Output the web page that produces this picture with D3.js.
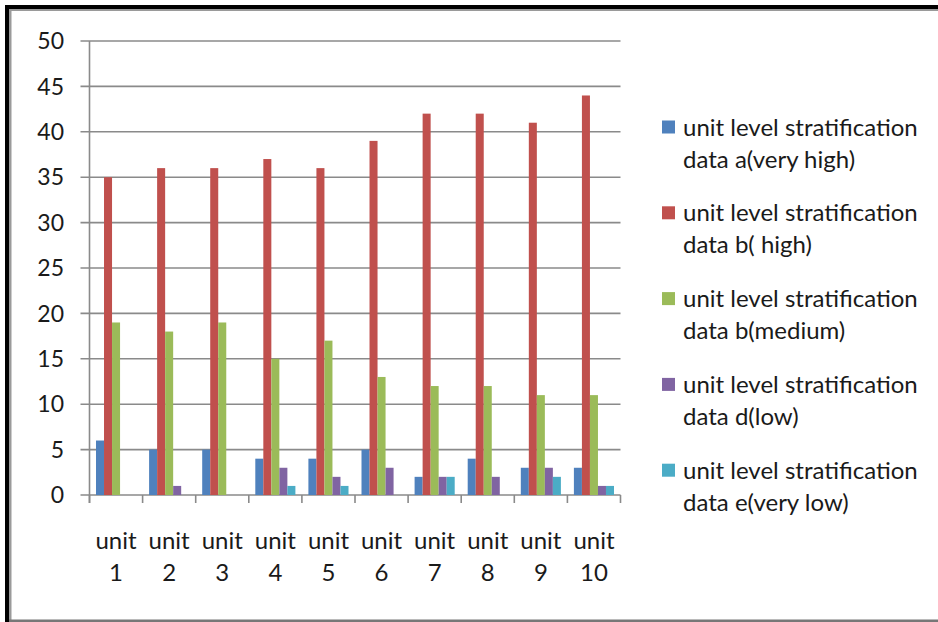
<!DOCTYPE html>
<html>
<head>
<meta charset="utf-8">
<script src="https://cdn.jsdelivr.net/npm/d3@7"></script>
<style>
  html, body { margin: 0; padding: 0; background: #fff; }
  svg { display: block; }
  text { font-family: Lato, "Open Sans", "Liberation Sans", sans-serif; fill: #1a1a1a; }
</style>
</head>
<body>
<svg id="chart" width="938" height="622"></svg>
<script>
// Categories and series
const units = ["unit 1", "unit 2", "unit 3", "unit 4", "unit 5", "unit 6", "unit 7", "unit 8", "unit 9", "unit 10"];
const seriesNames = [
  "unit level stratification data a(very high)",
  "unit level stratification data b( high)",
  "unit level stratification data b(medium)",
  "unit level stratification data d(low)",
  "unit level stratification data e(very low)"
];
const veryHigh = [6, 5, 5, 4, 4, 5, 2, 4, 3, 3];
const high     = [35, 36, 36, 37, 36, 39, 42, 42, 41, 44];
const medium   = [19, 18, 19, 15, 17, 13, 12, 12, 11, 11];
const low      = [0, 1, 0, 3, 2, 3, 2, 2, 3, 1];
const veryLow  = [0, 0, 0, 1, 1, 0, 2, 0, 2, 1];
const yTicks   = [0, 5, 10, 15, 20, 25, 30, 35, 40, 45, 50];
const colors   = ["#4F81BD", "#C0504D", "#9BBB59", "#8064A2", "#4BACC6"];

const allSeries = [veryHigh, high, medium, low, veryLow];

const svg = d3.select("#chart");
const gridColor = "#8a8a8a";

// Outer frame
svg.append("rect").attr("x", 5).attr("y", 5).attr("width", 940).attr("height", 4).attr("fill", "#000");
svg.append("rect").attr("x", 5).attr("y", 5).attr("width", 4).attr("height", 620).attr("fill", "#000");
svg.append("rect").attr("x", 9).attr("y", 9).attr("width", 940).attr("height", 2).attr("fill", "#9a9a9a");
svg.append("rect").attr("x", 9).attr("y", 9).attr("width", 2.5).attr("height", 620).attr("fill", "#9a9a9a");
svg.append("rect").attr("x", 9).attr("y", 619.5).attr("width", 940).attr("height", 3).attr("fill", "#777");

// Scales
const plot = { left: 89.5, right: 620.5, top: 41, bottom: 495 };
const x = d3.scaleBand().domain(units).range([plot.left, plot.right]).paddingInner(0).paddingOuter(0);
const y = d3.scaleLinear().domain([0, 50]).range([plot.bottom, plot.top]);
const xs = d3.scaleBand().domain(d3.range(allSeries.length))
  .range([6.5, x.bandwidth() - 6.5]).padding(0);

// Gridlines
svg.append("g").selectAll("line").data(yTicks).join("line")
  .attr("x1", plot.left - 9).attr("x2", plot.right)
  .attr("y1", d => y(d)).attr("y2", d => y(d))
  .attr("stroke", gridColor).attr("stroke-width", 1.6);

// Bars
const groups = svg.append("g").selectAll("g").data(units).join("g")
  .attr("transform", d => `translate(${x(d)},0)`);
groups.selectAll("rect")
  .data((u, i) => allSeries.map((s, k) => ({ k, v: s[i] })).filter(d => d.v > 0))
  .join("rect")
  .attr("x", d => xs(d.k))
  .attr("width", xs.bandwidth())
  .attr("y", d => y(d.v))
  .attr("height", d => y(0) - y(d.v))
  .attr("fill", d => colors[d.k]);

// Axes
svg.append("line").attr("x1", plot.left).attr("x2", plot.left)
  .attr("y1", plot.top).attr("y2", plot.bottom + 8)
  .attr("stroke", gridColor).attr("stroke-width", 1.6);
const boundaries = units.map(u => x(u)).concat([plot.right]);
svg.append("g").selectAll("line").data(boundaries).join("line")
  .attr("x1", d => d).attr("x2", d => d)
  .attr("y1", plot.bottom).attr("y2", plot.bottom + 8)
  .attr("stroke", gridColor).attr("stroke-width", 1.6);

// Y tick labels
svg.append("g").selectAll("text").data(yTicks).join("text")
  .attr("x", 64).attr("y", d => y(d))
  .attr("dy", "0.36em")
  .attr("text-anchor", "end")
  .attr("font-size", 23)
  .text(d => d);

// X labels (two lines each)
const xl = svg.append("g").selectAll("text").data(units).join("text")
  .attr("text-anchor", "middle")
  .attr("font-size", 24);
xl.each(function (d) {
  const parts = d.split(" ");
  const t = d3.select(this);
  const cx = x(d) + x.bandwidth() / 2;
  t.append("tspan").attr("x", cx).attr("y", 549).text(parts[0]);
  t.append("tspan").attr("x", cx).attr("y", 581).text(parts[1]);
});

// Legend
const legend = svg.append("g").selectAll("g").data(seriesNames).join("g")
  .attr("transform", (d, i) => `translate(662,${127 + i * 85.8})`);
legend.append("rect").attr("x", 0).attr("y", -6.5).attr("width", 13).attr("height", 13)
  .attr("fill", (d, i) => colors[i]);
legend.each(function (d) {
  const g = d3.select(this);
  const firstLine = "unit level stratification";
  const secondLine = d.slice(firstLine.length + 1);
  const t = g.append("text").attr("x", 21).attr("font-size", 24);
  t.append("tspan").attr("x", 21).attr("y", 8.5).text(firstLine);
  t.append("tspan").attr("x", 21).attr("y", 40.5).text(secondLine);
});
</script>
</body>
</html>
